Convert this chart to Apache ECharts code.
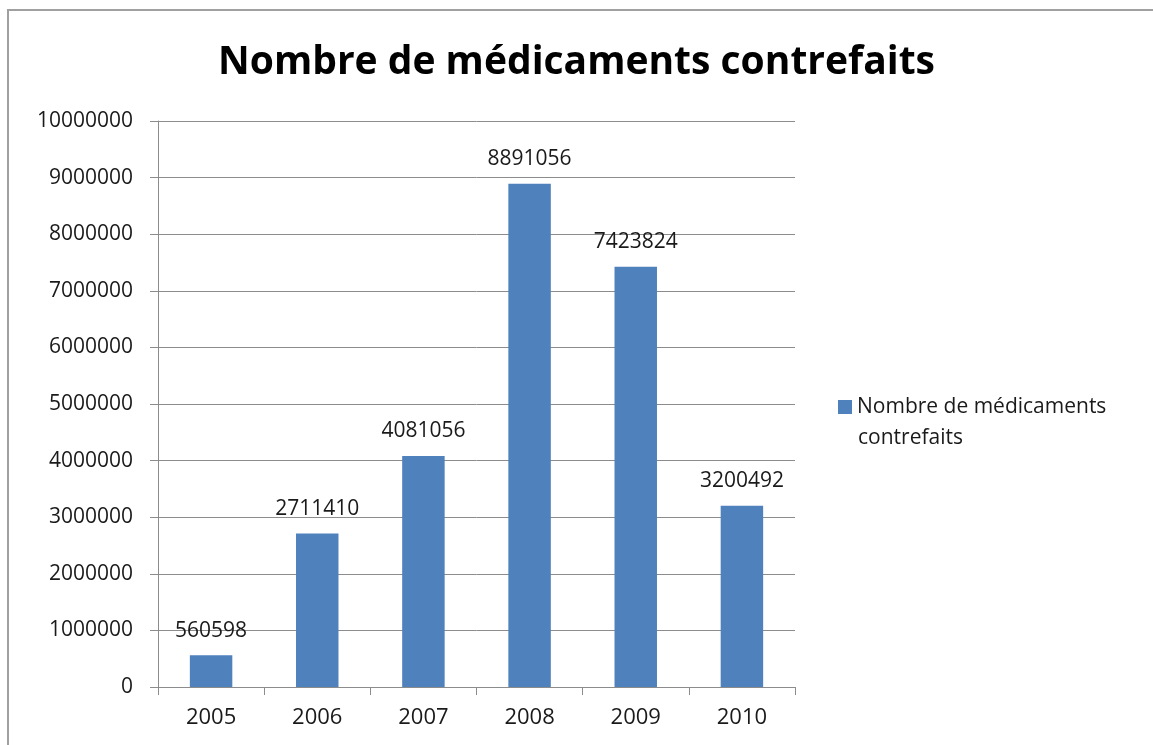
<!DOCTYPE html>
<html>
<head>
<meta charset="utf-8">
<script src="https://cdn.jsdelivr.net/npm/echarts@6/dist/echarts.min.js"></script>
<style>
html, body { margin: 0; padding: 0; background: #fff; }
#frame { position: absolute; left: 7px; top: 9px; width: 1160px; height: 760px; border: 2px solid #a0a0a0; box-sizing: border-box; }
#main { position: absolute; left: 0; top: 0; width: 1153px; height: 745px; }
</style>
</head>
<body>
<div id="frame"></div>
<div id="main"></div>
<script>
var years = ['2005', '2006', '2007', '2008', '2009', '2010'];
var counts = [560598, 2711410, 4081056, 8891056, 7423824, 3200492];
var seriesName = 'Nombre de médicaments contrefaits';

var dom = document.getElementById("main");
var myChart = echarts.init(dom);
var font = '"Open Sans", "Noto Sans", sans-serif';

var option = {
	animation: false,
	title: {
		text: seriesName,
		left: 'center',
		top: 38,
		textStyle: {
			color: '#000',
			fontFamily: font,
			fontWeight: 'bold',
			fontSize: 39
		}
	},
	legend: {
		data: [seriesName],
		left: 838,
		top: 394,
		padding: 0,
		icon: 'rect',
		itemWidth: 14,
		itemHeight: 14,
		formatter: function () {
			return 'Nombre de médicaments';
		},
		textStyle: {
			color: '#1a1a1a',
			fontFamily: font,
			fontSize: 21,
			lineHeight: 26
		}
	},
	graphic: [{
		type: 'text',
		left: 858,
		top: 428,
		style: {
			text: 'contrefaits',
			fill: '#1a1a1a',
			font: '21px "Open Sans", "Noto Sans", sans-serif'
		}
	}],
	grid: {
		left: 158,
		right: 358,
		top: 121,
		bottom: 58
	},
	xAxis: {
		type: 'category',
		data: years,
		axisLine: { lineStyle: { color: '#8c8c8c', width: 1 } },
		axisTick: { show: true, length: 8, lineStyle: { color: '#8c8c8c' } },
		axisLabel: {
			color: '#1a1a1a',
			fontFamily: font,
			fontSize: 22,
			margin: 20
		}
	},
	yAxis: {
		type: 'value',
		min: 0,
		max: 10000000,
		interval: 1000000,
		axisLine: { show: true, lineStyle: { color: '#8c8c8c', width: 1 } },
		axisTick: { show: true, length: 8, lineStyle: { color: '#8c8c8c' } },
		splitLine: { lineStyle: { color: '#8c8c8c', width: 1 } },
		axisLabel: {
			color: '#1a1a1a',
			fontFamily: font,
			fontSize: 21,
			margin: 25,
			formatter: function (v) { return String(v); }
		}
	},
	series: [{
		name: seriesName,
		type: 'bar',
		barWidth: '40%',
		data: counts,
		itemStyle: { color: '#4f81bd' },
		label: {
			show: true,
			position: 'top',
			distance: 14,
			color: '#1a1a1a',
			fontFamily: font,
			fontSize: 21
		}
	}]
};
myChart.setOption(option);
</script>
</body>
</html>
